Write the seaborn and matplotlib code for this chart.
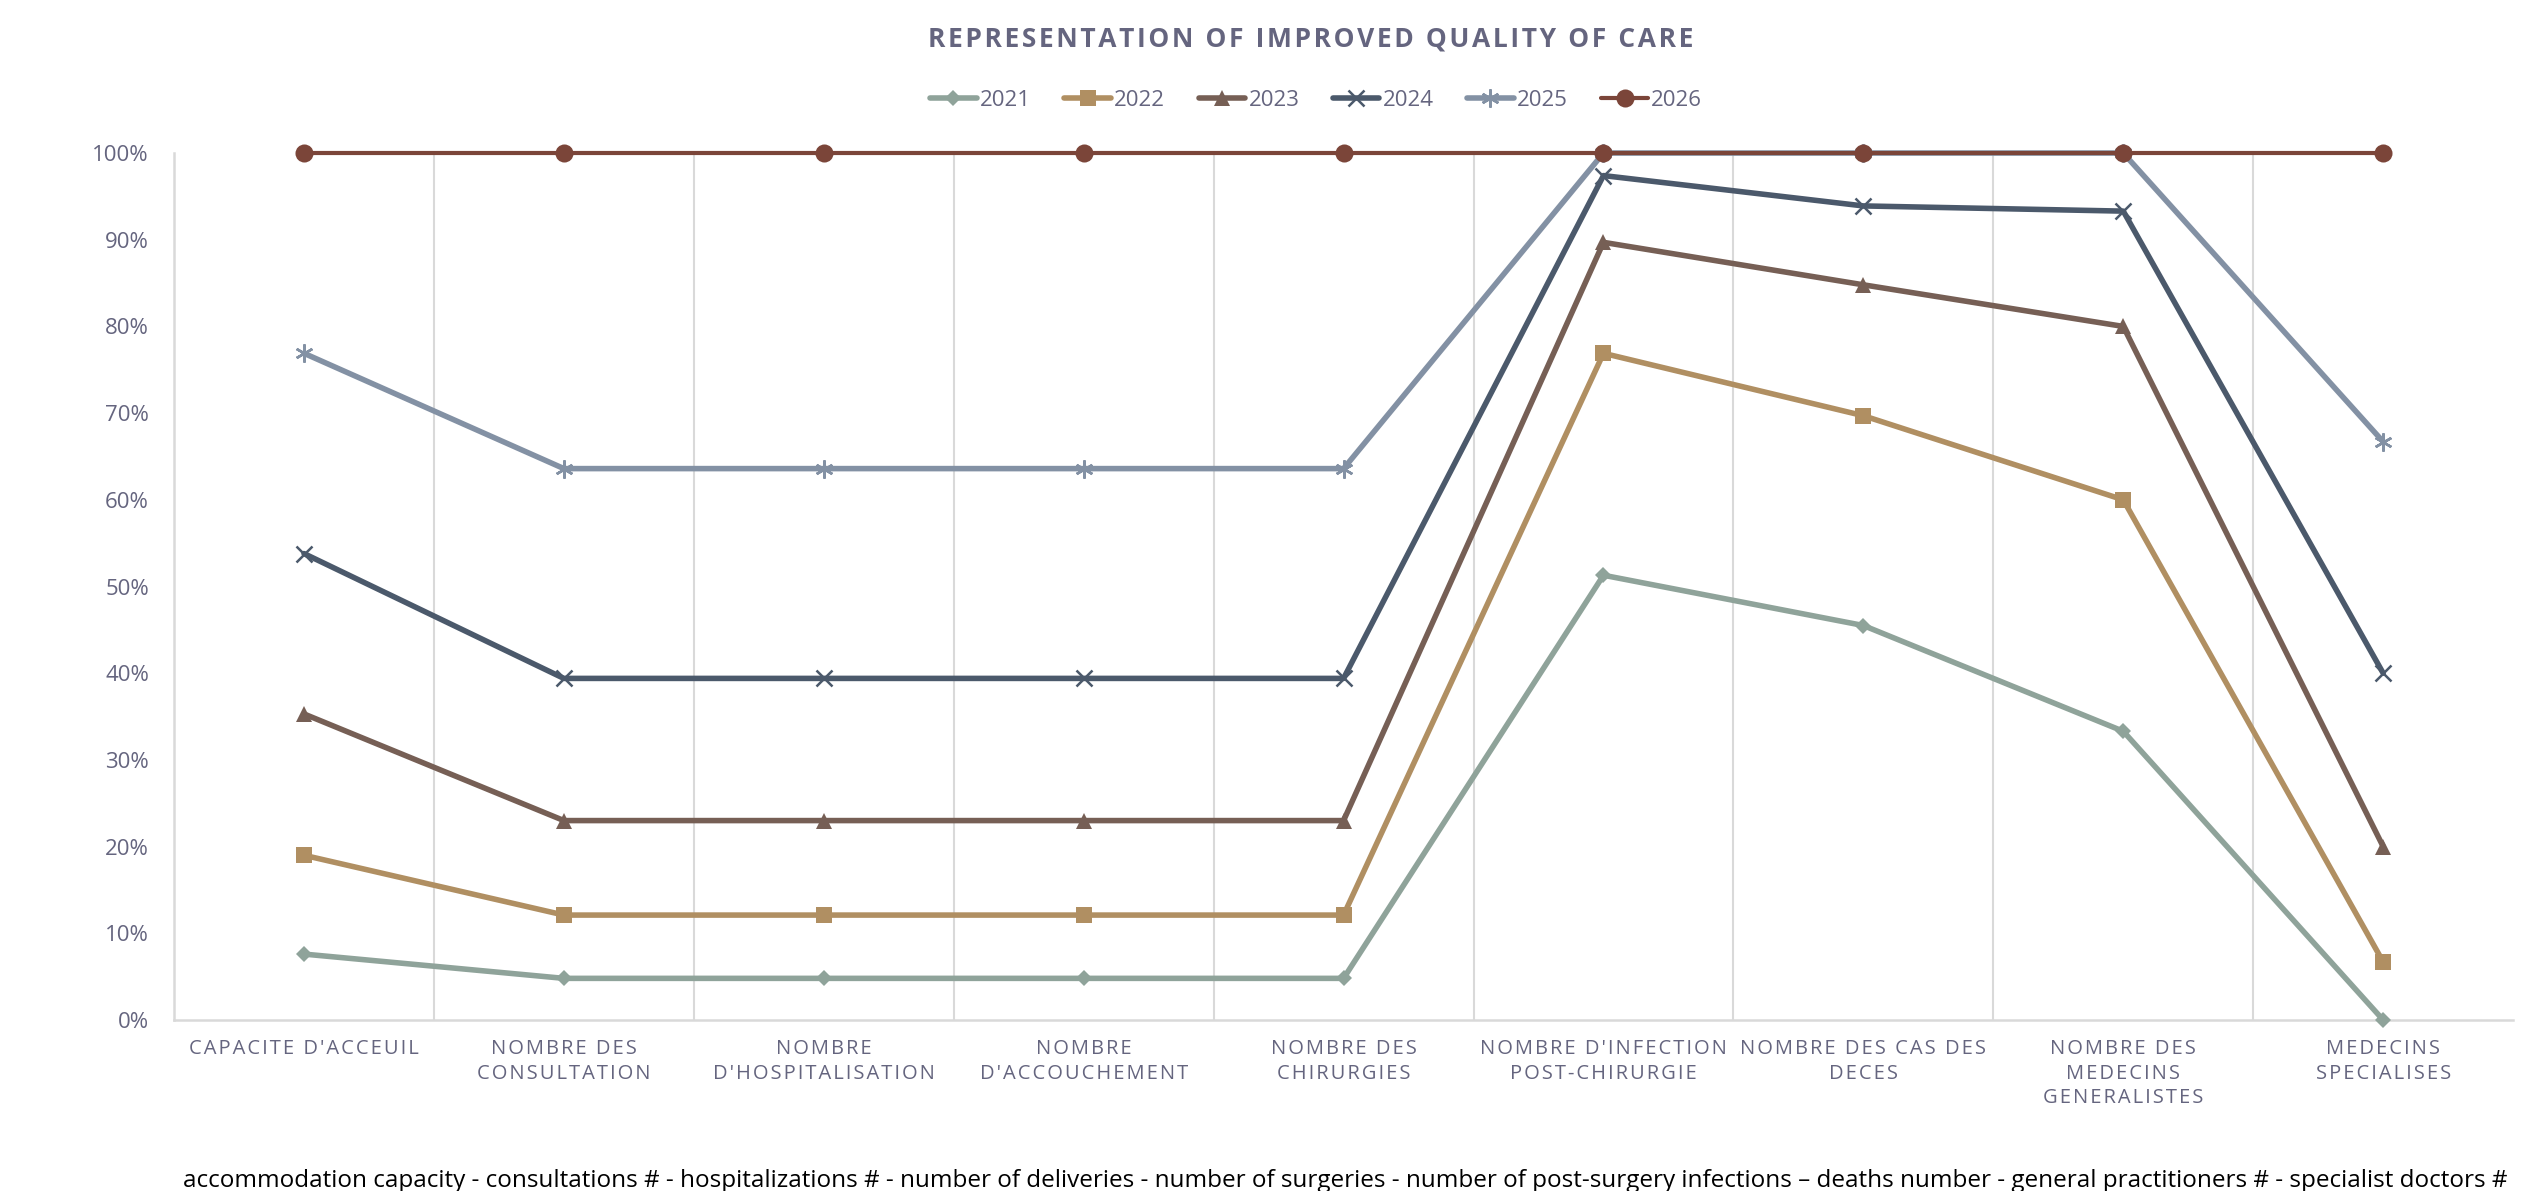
import matplotlib
matplotlib.use("Agg")
import matplotlib.pyplot as plt
import seaborn as sns
import pandas as pd
from matplotlib.ticker import PercentFormatter, FixedLocator

categories = ["CAPACITE D'ACCEUIL", "NOMBRE DES\nCONSULTATION", "NOMBRE\nD'HOSPITALISATION",
              "NOMBRE\nD'ACCOUCHEMENT", "NOMBRE DES\nCHIRURGIES", "NOMBRE D'INFECTION\nPOST-CHIRURGIE",
              "NOMBRE DES CAS DES\nDECES", "NOMBRE DES\nMEDECINS\nGENERALISTES", "MEDECINS\nSPECIALISES"]
years = ["2021", "2022", "2023", "2024", "2025", "2026"]
v2021 = [0.076, 0.048, 0.048, 0.048, 0.048, 0.513, 0.455, 0.333, 0.0]
v2022 = [0.190, 0.121, 0.121, 0.121, 0.121, 0.769, 0.697, 0.600, 0.067]
v2023 = [0.353, 0.230, 0.230, 0.230, 0.230, 0.897, 0.848, 0.800, 0.200]
v2024 = [0.538, 0.394, 0.394, 0.394, 0.394, 0.974, 0.939, 0.933, 0.400]
v2025 = [0.769, 0.636, 0.636, 0.636, 0.636, 1.0, 1.0, 1.0, 0.667]
v2026 = [1.0, 1.0, 1.0, 1.0, 1.0, 1.0, 1.0, 1.0, 1.0]

colors = ["#8FA39A", "#B08F62", "#765F55", "#4B596B", "#8391A4", "#7B4539"]
markers = ["D", "s", "^", "x", (6, 2, 0), "o"]
msizes = [8, 11, 12, 12, 13, 13]
widths = [4, 4, 4, 4, 4, 3]

text_col = "#65657F"
caption = ("accommodation capacity - consultations # - hospitalizations # - number of deliveries - "
           "number of surgeries - number of post-surgery infections \u2013 deaths number - "
           "general practitioners # - specialist doctors #")


def spaced(s):
    # fake the letter spacing of the original with hair spaces
    return "\n".join("\u200a".join(line) for line in s.split("\n"))


sns.set_style("white")
plt.rcParams['font.family'] = ['Open Sans', 'DejaVu Sans']

fig = plt.figure(figsize=(25.26, 11.91), dpi=100)
ax = fig.add_axes([0.0689, 0.1436, 0.9949 - 0.0689, 0.8715 - 0.1436])

series = [v2021, v2022, v2023, v2024, v2025, v2026]
xs = list(range(len(categories)))
for yr, vals, c, m, ms, lw in zip(years, series, colors, markers, msizes, widths):
    df = pd.DataFrame({"x": xs, "y": vals})
    sns.lineplot(data=df, x="x", y="y", ax=ax, color=c, lw=lw, marker=m, markersize=ms,
                 markeredgecolor=c, markeredgewidth=1.8 if m in ("x", (6, 2, 0)) else 0,
                 label=yr, clip_on=False, zorder=3)

ax.set_xlim(-0.5, len(categories) - 0.5)
ax.set_ylim(0, 1)
ax.set_xticks(xs)
ax.set_xticklabels([spaced(c) for c in categories], fontsize=14.5, color=text_col, linespacing=1.3)
ax.xaxis.set_minor_locator(FixedLocator([i + 0.5 for i in range(len(categories) - 1)]))
ax.grid(which="minor", axis="x", color="#D9D9D9", lw=1.5)
ax.grid(which="major", visible=False)
ax.tick_params(axis="x", which="both", length=0, pad=14)
ax.set_yticks([i / 10 for i in range(11)])
ax.yaxis.set_major_formatter(PercentFormatter(1.0, decimals=0))
ax.tick_params(axis="y", length=0, labelsize=16, labelcolor=text_col, pad=18)
ax.set_xlabel("")
ax.set_ylabel("")
for s in ["top", "right"]:
    ax.spines[s].set_visible(False)
for s in ["left", "bottom"]:
    ax.spines[s].set_color("#D9D9D9")
    ax.spines[s].set_linewidth(1.8)

handles, labels = ax.get_legend_handles_labels()
ax.legend_.remove()
fig.legend(handles, labels, loc="center", bbox_to_anchor=(0.521, 0.916), ncol=6, frameon=False,
           fontsize=16, labelcolor=text_col, handlelength=2.1, handletextpad=0.15, columnspacing=1.5)

fig.text(0.519, 0.967, spaced("REPRESENTATION OF IMPROVED QUALITY OF CARE"), ha="center", va="center",
         fontsize=19, fontweight="bold", color=text_col)
fig.text(0.5325, 0.008, caption, ha="center", va="center", fontsize=17.5, color="black")

fig.savefig("out.png", dpi=100)
